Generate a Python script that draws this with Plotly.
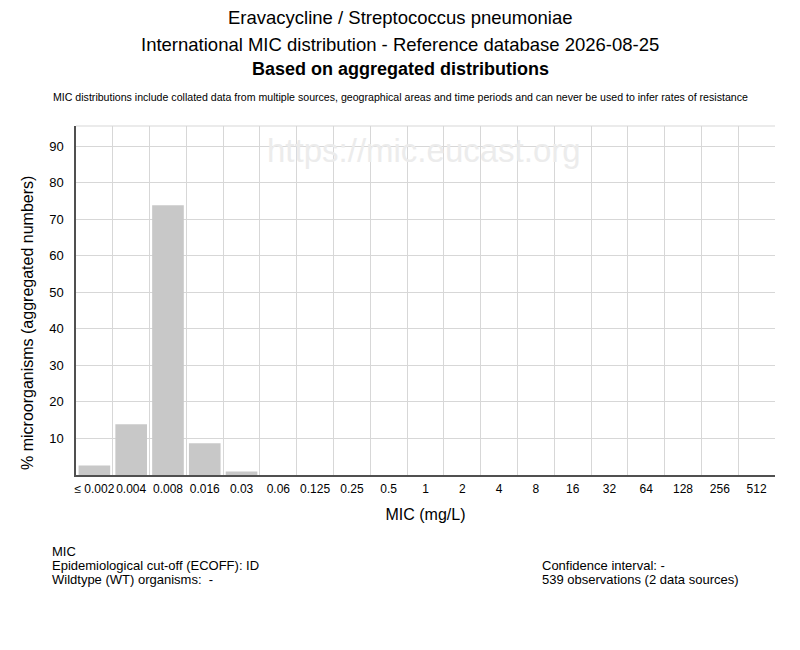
import plotly.graph_objs as go

mic_labels = ['≤ 0.002', '0.004', '0.008', '0.016', '0.03', '0.06', '0.125',
              '0.25', '0.5', '1', '2', '4', '8', '16', '32', '64', '128',
              '256', '512']
counts = [14, 75, 398, 47, 5, 0, 0, 0, 0, 0, 0, 0, 0, 0, 0, 0, 0, 0, 0]
y_ticks = [10, 20, 30, 40, 50, 60, 70, 80, 90]

total = sum(counts)
percent = [100.0 * c / total for c in counts]
positions = list(range(len(mic_labels)))

FONT = 'Liberation Sans'
# the page body adds an 8px margin, so the figure is a bit smaller
OFF = 8
PLOT_TOP = 126
PLOT_H = 349.0
PLOT_L = 76
PLOT_W = 699.0


def py_(px):
    return 1 + (PLOT_TOP - px) / PLOT_H


def px_(px):
    return (px - PLOT_L) / PLOT_W


fig = go.Figure(go.Bar(
    x=positions,
    y=percent,
    marker=dict(color='rgb(200,200,200)', line=dict(width=0)),
    width=0.86,
    hoverinfo='skip'
))

titles = [
    ('Eravacycline / Streptococcus pneumoniae', 18, 18.5),
    ('International MIC distribution - Reference database 2026-08-25', 44, 18.5),
    ('<b>Based on aggregated distributions</b>', 69, 18),
    ('MIC distributions include collated data from multiple sources, '
     'geographical areas and time periods and can never be used to '
     'infer rates of resistance', 97, 10.6),
]
ann = []
for text, ypx, size in titles:
    ann.append(go.layout.Annotation(
        text=text, xref='paper', yref='paper', x=px_(400),
        y=py_(ypx), xanchor='center', yanchor='middle',
        showarrow=False, font=dict(family=FONT, size=size, color='black')
    ))

# y axis title, sits a little below the middle of the plot
ann.append(go.layout.Annotation(
    text='% microorganisms (aggregated numbers)', xref='paper', yref='paper',
    x=px_(27), y=py_(323), xanchor='center', yanchor='middle',
    textangle=-90, showarrow=False,
    font=dict(family=FONT, size=16, color='black')
))

# watermark
ann.append(go.layout.Annotation(
    text='https://mic.eucast.org', xref='paper', yref='paper',
    x=px_(424), y=py_(150),
    xanchor='center', yanchor='middle', showarrow=False,
    font=dict(family=FONT, size=33, color='rgb(236,236,236)')
))

# footer
left_lines = ['MIC', 'Epidemiological cut-off (ECOFF): ID',
              'Wildtype (WT) organisms:  -']
right_lines = ['Confidence interval: -', '539 observations (2 data sources)']
for i, line in enumerate(left_lines):
    ann.append(go.layout.Annotation(
        text=line, xref='paper', yref='paper',
        x=px_(50), y=py_(551 + 14 * i),
        xanchor='left', yanchor='middle', align='left', showarrow=False,
        font=dict(family=FONT, size=13, color='black')
    ))
for i, line in enumerate(right_lines):
    ann.append(go.layout.Annotation(
        text=line, xref='paper', yref='paper',
        x=px_(540), y=py_(565 + 14 * i),
        xanchor='left', yanchor='middle', align='left', showarrow=False,
        font=dict(family=FONT, size=13, color='black')
    ))

layout = go.Layout(
    width=800 - OFF,
    height=650 - OFF,
    paper_bgcolor='white',
    plot_bgcolor='white',
    margin=dict(l=PLOT_L - OFF, r=25, t=PLOT_TOP - OFF, b=175, pad=0),
    showlegend=False,
    font=dict(family=FONT, size=12, color='black'),
    bargap=0.14,
    xaxis=dict(
        range=[-0.5, len(mic_labels) - 0.5],
        tickmode='array',
        tickvals=positions,
        ticktext=mic_labels,
        tickangle=0,
        showgrid=False,
        zeroline=False,
        showline=True,
        linecolor='rgb(80,80,80)',
        linewidth=1.5,
        ticks='',
        ticklabelstandoff=2,
        tickfont=dict(family=FONT, size=12),
        minor=dict(tick0=0.5, dtick=1, showgrid=True,
                   gridcolor='rgb(215,215,215)', gridwidth=1),
        title=dict(text='MIC (mg/L)', font=dict(family=FONT, size=16),
                   standoff=14),
        fixedrange=True
    ),
    yaxis=dict(
        range=[0, 95.5],
        tickmode='array',
        tickvals=y_ticks,
        showgrid=True,
        gridcolor='rgb(215,215,215)',
        gridwidth=1,
        zeroline=False,
        showline=True,
        linecolor='rgb(80,80,80)',
        linewidth=1.5,
        ticks='',
        ticklabelstandoff=8,
        tickfont=dict(family=FONT, size=13),
        fixedrange=True
    ),
    shapes=[dict(type='line', xref='paper', yref='paper', x0=0, x1=1,
                 y0=1, y1=1, line=dict(color='rgb(215,215,215)', width=1))],
    annotations=ann
)
fig.update_layout(layout)
fig.write_html('out.html')
